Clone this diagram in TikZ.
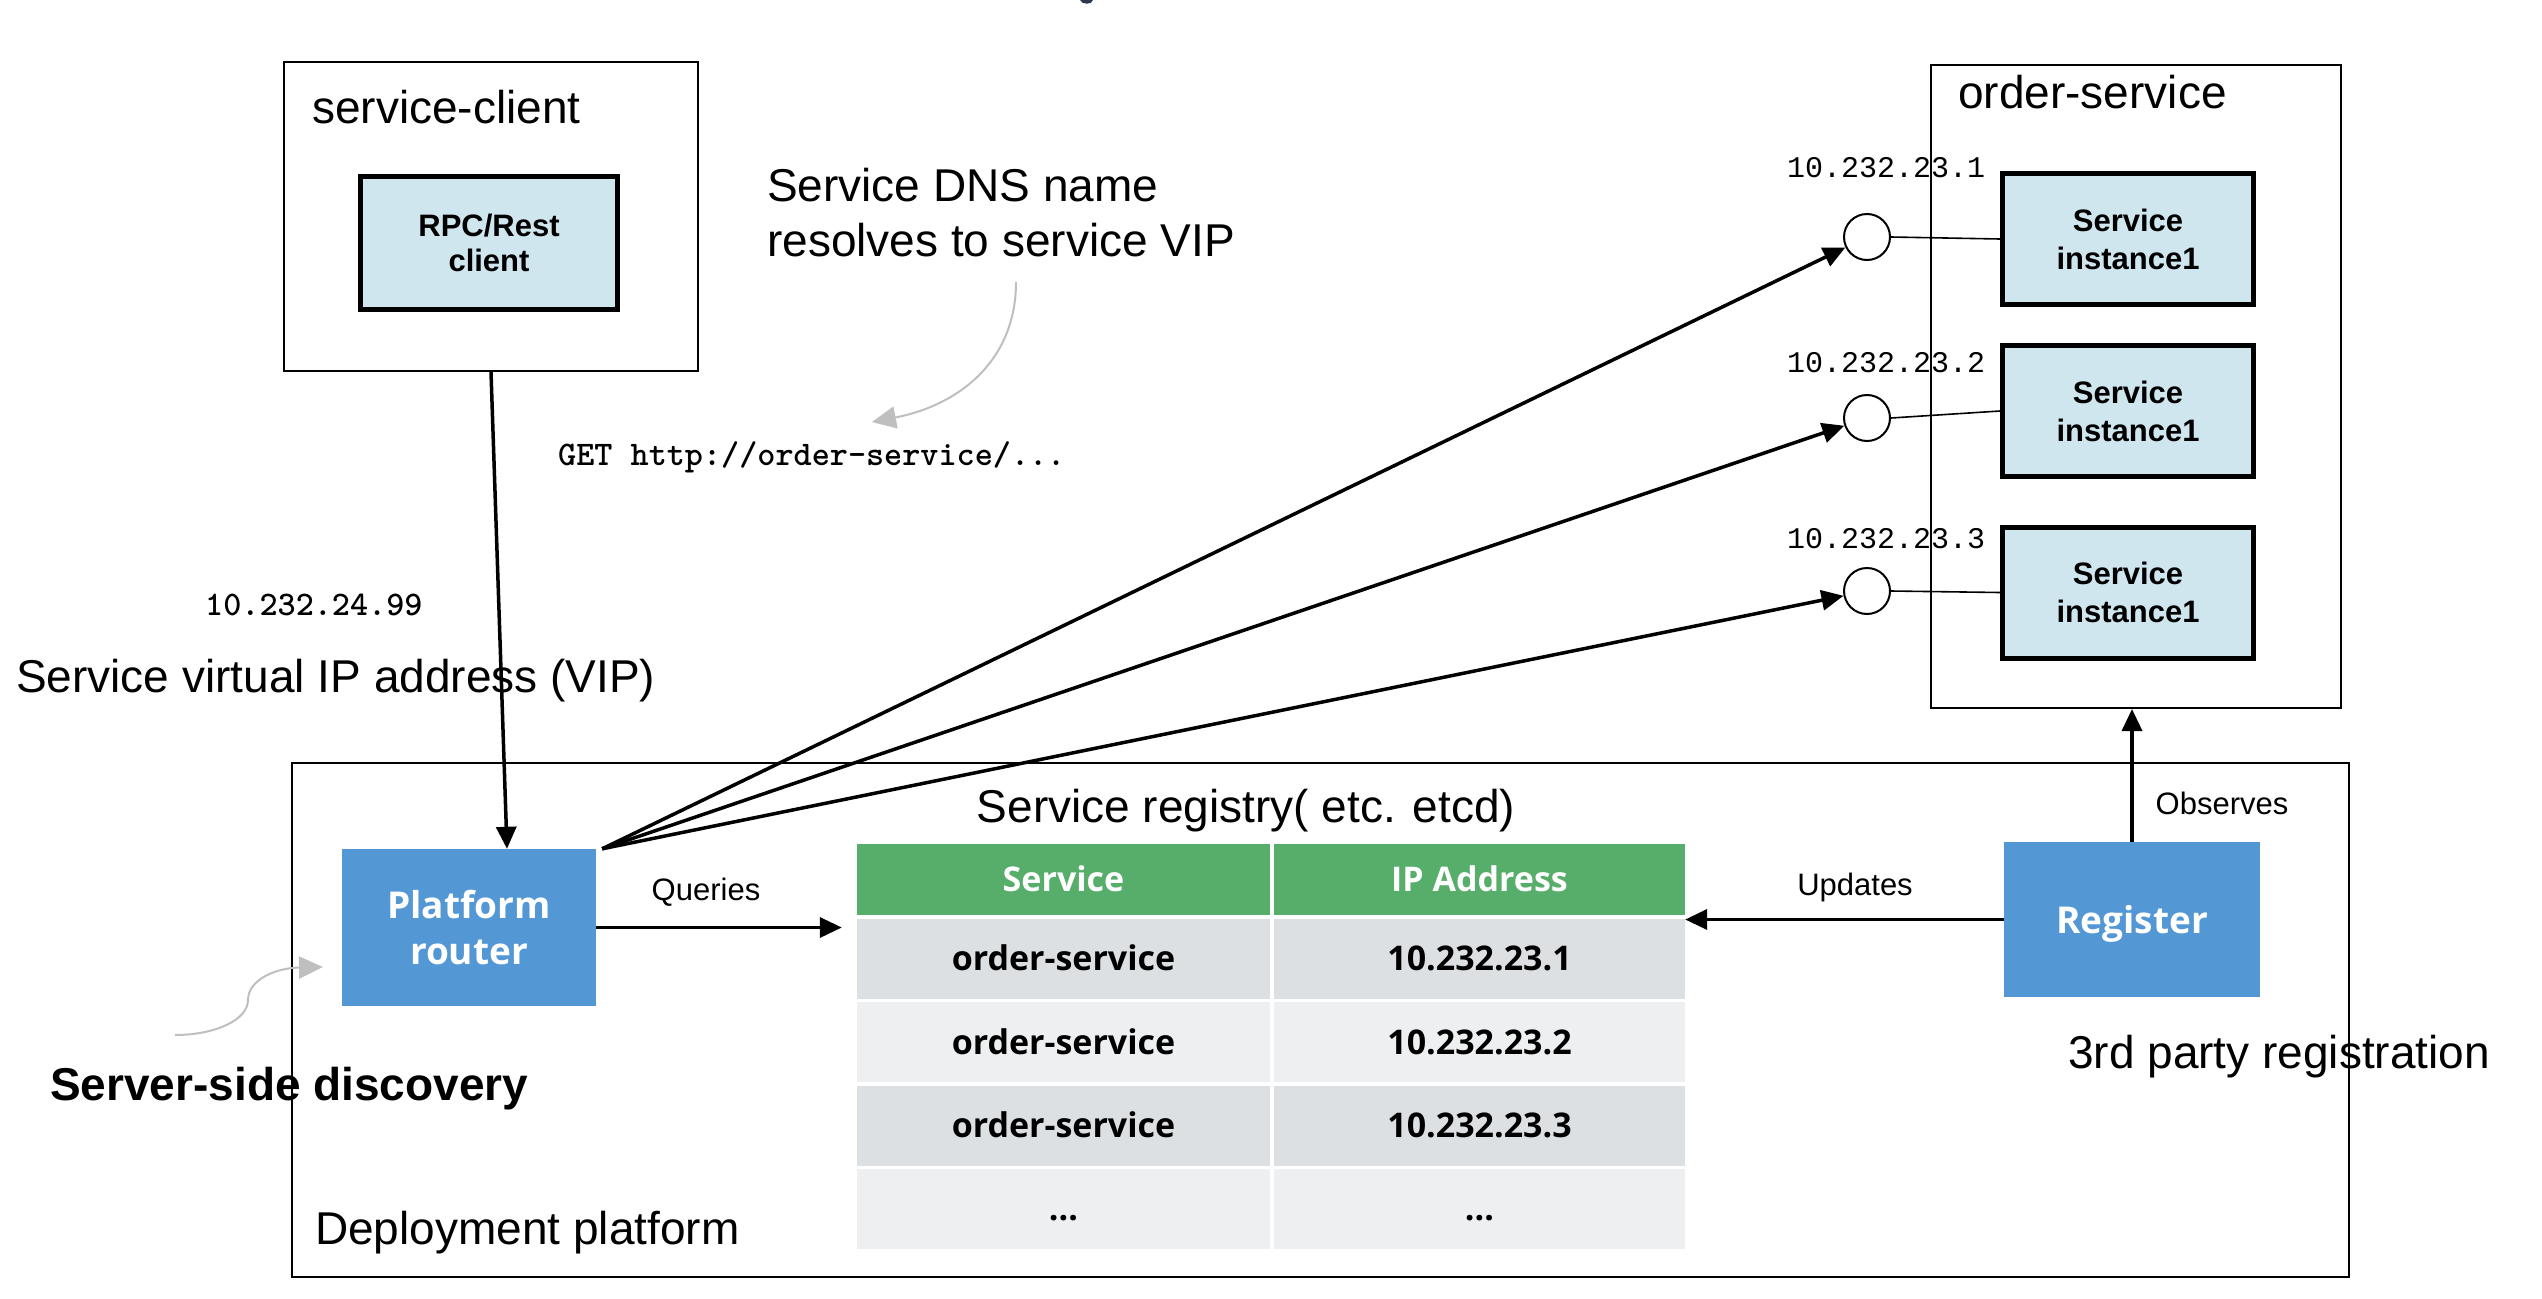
\documentclass[tikz,border=0pt]{standalone}
\usepackage{fontspec}
\setmainfont{Liberation Sans}
\newfontfamily\osfont{Open Sans}
\newfontfamily\lmono{Liberation Mono}
\usetikzlibrary{arrows.meta}
\definecolor{boxblue}{HTML}{5397D5}
\definecolor{lightblue}{HTML}{CFE6EF}
\definecolor{hdrgreen}{HTML}{57AD6A}
\definecolor{rowdark}{HTML}{DDE0E2}
\definecolor{rowlight}{HTML}{EEEFF1}
\definecolor{annotgray}{HTML}{BFBFBF}
\definecolor{navyblob}{HTML}{2B3A50}
\begin{document}
\begin{tikzpicture}[x=1pt,y=-1pt,
  lbl/.style={inner sep=0pt, font=\fontsize{46}{55}\selectfont},
  smalllbl/.style={inner sep=0pt, font=\fontsize{31}{37}\selectfont},
  monolbl/.style={inner sep=0pt, font=\lmono\fontsize{30}{36}\selectfont},
  ttlbl/.style={inner sep=0pt, font=\ttfamily\bfseries\fontsize{34.5}{40}\selectfont},
  frame/.style={draw=black, line width=2pt, inner sep=0pt},
  inst/.style={draw=black, line width=5pt, fill=lightblue, inner sep=0pt, minimum width=251pt, minimum height=131pt, align=center, font=\bfseries\fontsize{31}{38}\selectfont},
  bluebox/.style={fill=boxblue, text=white, inner sep=0pt, align=center, font=\osfont\bfseries\fontsize{37}{46}\selectfont},
  cell/.style={inner sep=0pt, minimum width=413pt, minimum height=80pt, text height=24.5pt, text depth=0pt, font=\osfont\bfseries\fontsize{34}{40}\selectfont},
  port/.style={circle, draw=black, line width=2pt, fill=white, minimum size=46pt, inner sep=0pt},
  arr/.style={line width=3.5pt, -{Triangle[length=22pt,width=20pt]}},
  link/.style={line width=1.6pt},
  annot/.style={draw=annotgray, line width=2pt, -{Triangle[length=24pt,width=22pt]}}
]
\useasboundingbox[fill=white] (0,0) rectangle (2542,1298);
\fill[navyblob] (1080,0) -- (1093,0) .. controls (1092,5) and (1082,5) .. (1080,0) -- cycle;

% service-client
\node[frame, minimum width=414pt, minimum height=309pt] (sc) at (491,216.5) {};
\node[lbl, anchor=base west] (sclbl) at (312,123) {service-client};
\node[inst, minimum width=257pt, minimum height=133pt, font=\bfseries\fontsize{31}{35}\selectfont] (rpc) at (489,243) {RPC/Rest\\client};

% DNS note
\node[lbl, anchor=west, align=left] (dns) at (767,212.5) {Service DNS name\\resolves to service VIP};
\node[ttlbl, anchor=west] (get) at (558,457) {GET http://order-service/...};
\coordinate (dnsA) at (1016,282);
\coordinate (dnsB) at (872,422);
\draw[annot] (dnsA) .. controls (1016,360) and (960,405) .. (dnsB);

% VIP
\node[ttlbl, anchor=west] (vipip) at (205,605) {10.232.24.99};
\node[lbl, anchor=west] (viplbl) at (16,681) {Service virtual IP address (VIP)};

% order-service
\node[frame, minimum width=410pt, minimum height=643pt] (os) at (2136,386.5) {};
\node[lbl, anchor=base west] (oslbl) at (1958,108) {order-service};
\node[inst] (i1) at (2128,239) {Service\\instance1};
\node[inst] (i2) at (2128,411) {Service\\instance1};
\node[inst] (i3) at (2128,592.5) {Service\\instance1};
\node[port] (c1) at (1867,237) {};
\node[port] (c2) at (1867,418) {};
\node[port] (c3) at (1867,591) {};
\node[monolbl, anchor=base west] (ip1) at (1787,177) {10.232.23.1};
\node[monolbl, anchor=base west] (ip2) at (1787,372) {10.232.23.2};
\node[monolbl, anchor=base west] (ip3) at (1787,548) {10.232.23.3};
\draw[link] (c1.east) -- (i1.west);
\draw[link] (c2.east) -- (i2.west);
\draw[link] (c3.east) -- (i3.west);

% deployment platform
\node[frame, line width=2.5pt, minimum width=2057pt, minimum height=514pt] (dp) at (1320.5,1020) {};
\node[lbl, anchor=west] (dplbl) at (315,1233) {Deployment platform};
\node[bluebox, minimum width=254pt, minimum height=157pt] (rtr) at (469,927.5) {Platform\\router};
\node[bluebox, minimum width=256pt, minimum height=155pt, text height=27pt, text depth=0pt] (reg) at (2132,919.5) {Register};
\node[lbl] (srlbl) at (1246,811) {Service registry( etc. etcd)};

% table
\node[cell, fill=hdrgreen, text=white, minimum height=71pt] (h1) at (1063.5,879.5) {Service};
\node[cell, fill=hdrgreen, text=white, minimum height=71pt, minimum width=411pt] (h2) at (1479.5,879.5) {IP Address};
\node[cell, fill=rowdark] (r1a) at (1063.5,958.5) {order-service};
\node[cell, fill=rowdark, minimum width=411pt] (r1b) at (1479.5,958.5) {10.232.23.1};
\node[cell, fill=rowlight] (r2a) at (1063.5,1042) {order-service};
\node[cell, fill=rowlight, minimum width=411pt] (r2b) at (1479.5,1042) {10.232.23.2};
\node[cell, fill=rowdark] (r3a) at (1063.5,1125.5) {order-service};
\node[cell, fill=rowdark, minimum width=411pt] (r3b) at (1479.5,1125.5) {10.232.23.3};
\node[cell, fill=rowlight] (r4a) at (1063.5,1208.5) {...};
\node[cell, fill=rowlight, minimum width=411pt] (r4b) at (1479.5,1208.5) {...};

% connectors
\draw[arr] (sc.south) -- ([xshift=38pt]rtr.north);
\draw[arr] ([xshift=6pt]rtr.north east) -- (c1);
\draw[arr] ([xshift=6pt]rtr.north east) -- (c2);
\draw[arr] ([xshift=6pt]rtr.north east) -- (c3);
\draw[arr, shorten >=15pt] (rtr.east) -- (rtr.east -| r1a.west);
\node[smalllbl] (qlbl) at (706,892) {Queries};
\draw[arr] (reg.west) -- (reg.west -| r1b.east);
\node[smalllbl] (ulbl) at (1855,887) {Updates};
\draw[arr] (reg.north) -- (reg.north |- os.south);
\node[smalllbl] (olbl) at (2222,803) {Observes};
\node[lbl, anchor=west] (tprlbl) at (2068,1057) {3rd party registration};

% server-side discovery
\node[lbl, anchor=west, font=\bfseries\fontsize{46}{55}\selectfont] (ssd) at (50,1089) {Server-side discovery};
\coordinate (ssA) at (175,1035);
\coordinate (ssM) at (248,1000);
\coordinate (ssB) at (323,967);
\draw[annot] (ssA) .. controls (215,1035) and (248,1020) .. (ssM) .. controls (248,980) and (275,968) .. (ssB);
\end{tikzpicture}
\end{document}
